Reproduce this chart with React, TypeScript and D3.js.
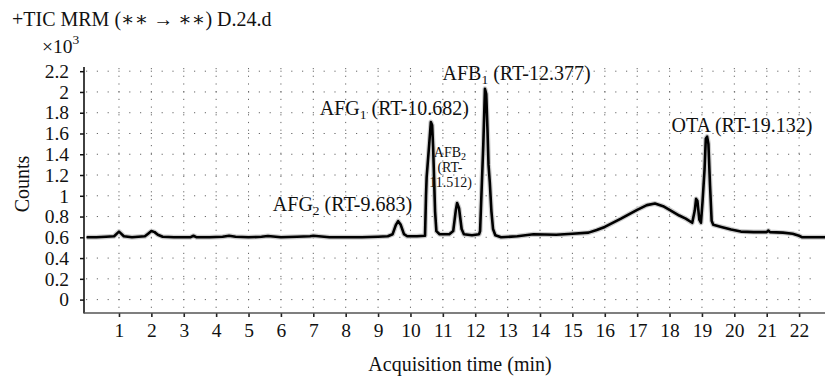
import React, { useEffect, useRef } from "react";
import * as d3 from "d3";

// retention time (min) and detector counts (x10^3)
const rtMinutes = [
  0, 0.3, 0.6, 0.85, 0.95, 1.0, 1.05, 1.15, 1.4, 1.8, 1.9, 2.0, 2.1, 2.2, 2.35, 2.7,
  3.2, 3.3, 3.4, 3.8, 4.2, 4.4, 4.6, 5.0, 5.4, 5.6, 6.0, 6.5, 6.9, 7.0, 7.5, 8.0,
  8.5, 9.0, 9.3, 9.45, 9.55, 9.62, 9.7, 9.8, 9.9, 10.2, 10.45, 10.48, 10.5, 10.58,
  10.63, 10.67, 10.7, 10.76, 10.8, 10.9, 11.2, 11.32, 11.4, 11.44, 11.5, 11.58,
  11.65, 11.9, 12.12, 12.15, 12.2, 12.25, 12.3, 12.34, 12.38, 12.41, 12.45, 12.5,
  12.55, 12.62, 12.8, 13.3, 13.8, 14.5, 15.0, 15.5, 15.75, 16.0, 16.5, 17.0, 17.3,
  17.55, 17.8, 18.0, 18.3, 18.5, 18.7, 18.78, 18.82, 18.86, 18.92, 18.97, 19.02,
  19.08, 19.12, 19.16, 19.2, 19.25, 19.3, 19.35, 19.6, 19.9, 20.2, 20.6, 21.0,
  21.05, 21.1, 21.5, 21.8, 22.0, 22.1, 22.5, 22.8,
];
const countsK = [
  0.6, 0.6, 0.605, 0.61, 0.64, 0.655, 0.64, 0.61, 0.6, 0.61, 0.635, 0.66, 0.65, 0.625, 0.605, 0.6,
  0.6, 0.615, 0.6, 0.6, 0.605, 0.615, 0.605, 0.6, 0.605, 0.612, 0.6, 0.605, 0.61, 0.615, 0.6, 0.6,
  0.6, 0.605, 0.61, 0.63, 0.72, 0.755, 0.72, 0.63, 0.61, 0.61, 0.615, 1.0, 1.18, 1.5,
  1.71, 1.68, 1.47, 0.85, 0.66, 0.63, 0.63, 0.66, 0.86, 0.93, 0.88, 0.68,
  0.63, 0.62, 0.63, 0.66, 1.08, 1.5, 2.03, 1.98, 1.62, 1.3, 1.13, 0.85,
  0.68, 0.62, 0.6, 0.61, 0.63, 0.625, 0.635, 0.645, 0.67, 0.7, 0.78, 0.865, 0.91,
  0.925, 0.9, 0.865, 0.81, 0.78, 0.74, 0.86, 0.97, 0.95, 0.77, 0.74, 0.95,
  1.25, 1.55, 1.57, 1.5, 1.1, 0.76, 0.72, 0.7, 0.675, 0.655, 0.65, 0.65,
  0.665, 0.65, 0.645, 0.635, 0.615, 0.6, 0.6, 0.6,
];

const yTicks = [0, 0.2, 0.4, 0.6, 0.8, 1, 1.2, 1.4, 1.6, 1.8, 2, 2.2];
const yTickLabels = ["0", "0.2", "0.4", "0.6", "0.8", "1", "1.2", "1.4", "1.6", "1.8", "2", "2.2"];
const xTicks = d3.range(1, 23);

// peak labels: name, subscript, rest of label, anchor time, anchor count
const peakNames = ["AFG", "AFG", "AFB", "OTA"];
const peakSubs = ["2", "1", "1", ""];
const peakRest = [" (RT-9.683)", " (RT-10.682)", " (RT-12.377)", " (RT-19.132)"];
const peakLabelT = [5.75, 7.2, 10.99, 18.06];
const peakLabelY = [0.85, 1.78, 2.115, 1.615];

const FONT = "'Liberation Serif', 'DejaVu Serif', serif";

export default function App() {
  const svgRef = useRef<SVGSVGElement>(null);

  useEffect(() => {
    const svg = d3.select(svgRef.current);
    svg.selectAll("*").remove();

    const x = d3.scaleLinear().domain([-0.08, 22.8]).range([84, 825]);
    const y = d3.scaleLinear().domain([0, 2.2]).range([299.6, 71.2]);

    const g = svg.append("g").style("font-family", FONT);

    // dotted grid
    g.selectAll(".hgrid")
      .data(yTicks)
      .enter()
      .append("line")
      .attr("x1", 86)
      .attr("x2", 820)
      .attr("y1", (d) => y(d))
      .attr("y2", (d) => y(d))
      .attr("stroke", "#666")
      .attr("stroke-width", 1)
      .attr("stroke-dasharray", "1.2,9.6");

    g.selectAll(".vgrid")
      .data(xTicks)
      .enter()
      .append("line")
      .attr("x1", (d) => x(d))
      .attr("x2", (d) => x(d))
      .attr("y1", 68)
      .attr("y2", 312)
      .attr("stroke", "#666")
      .attr("stroke-width", 1)
      .attr("stroke-dasharray", "1.2,6.5");

    // axes
    const yAxis = d3
      .axisLeft(y)
      .tickValues(yTicks)
      .tickFormat((_, i) => yTickLabels[i])
      .tickSize(4)
      .tickSizeOuter(0)
      .tickPadding(11);
    const ya = g.append("g").attr("transform", "translate(84,0)").call(yAxis);
    ya.select(".domain").remove();
    ya.selectAll("text").style("font-size", "19.5px").style("font-family", FONT).attr("fill", "#111");
    ya.selectAll("line").attr("stroke", "#111").attr("stroke-width", 1.5);

    const xAxis = d3
      .axisBottom(x)
      .tickValues(xTicks)
      .tickFormat(d3.format("d"))
      .tickSize(4)
      .tickSizeOuter(0)
      .tickPadding(6);
    const xa = g.append("g").attr("transform", "translate(0,313)").call(xAxis);
    xa.select(".domain").remove();
    xa.selectAll("text").style("font-size", "19.5px").style("font-family", FONT).attr("fill", "#111");
    xa.selectAll("line").attr("stroke", "#222").attr("stroke-width", 1.6);

    g.append("line").attr("x1", 84).attr("x2", 84).attr("y1", 67).attr("y2", 313.5)
      .attr("stroke", "#111").attr("stroke-width", 1.6);
    g.append("line").attr("x1", 84).attr("x2", 825).attr("y1", 313).attr("y2", 313)
      .attr("stroke", "#555").attr("stroke-width", 1.6);

    // trace
    const pts = rtMinutes.map((t, i) => [t, countsK[i]] as [number, number]);
    const line = d3.line<[number, number]>().x((d) => x(d[0])).y((d) => y(d[1]));
    g.append("path").attr("d", line(pts)).attr("fill", "none")
      .attr("stroke", "#ccc").attr("stroke-width", 5).attr("stroke-linejoin", "round");
    g.append("path").attr("d", line(pts)).attr("fill", "none")
      .attr("stroke", "#000").attr("stroke-width", 2.6).attr("stroke-linejoin", "round");

    // peak labels
    peakNames.forEach((name, i) => {
      const t = g.append("text")
        .attr("x", x(peakLabelT[i]))
        .attr("y", y(peakLabelY[i]))
        .style("font-size", "20px")
        .attr("fill", "#111")
        .text(name);
      if (peakSubs[i]) t.append("tspan").attr("dy", 4).style("font-size", "13.5px").text(peakSubs[i]);
      t.append("tspan").attr("dy", peakSubs[i] ? -4 : 0).text(peakRest[i]);
    });

    // the small AFB2 label stacked on three lines
    const afb2 = g.append("text").attr("text-anchor", "middle").style("font-size", "14px").attr("fill", "#111");
    afb2.append("tspan").attr("x", x(11.22)).attr("y", y(1.37)).text("AFB");
    afb2.append("tspan").attr("dy", 3).style("font-size", "10px").text("2");
    afb2.append("tspan").attr("x", x(11.22)).attr("y", y(1.225)).text("(RT-");
    afb2.append("tspan").attr("x", x(11.24)).attr("y", y(1.085)).text("11.512)");

    // titles
    g.append("text").attr("x", 12).attr("y", 26).style("font-size", "20px").attr("fill", "#111")
      .text("+TIC MRM (∗∗ → ∗∗) D.24.d");
    const mult = g.append("text").attr("x", 42).attr("y", 53).style("font-size", "19.5px").attr("fill", "#111");
    mult.append("tspan").text("×10");
    mult.append("tspan").attr("dy", -9).style("font-size", "13.5px").text("3");

    g.append("text")
      .attr("transform", "translate(29,184) rotate(-90)")
      .attr("text-anchor", "middle")
      .style("font-size", "20px")
      .attr("fill", "#111")
      .text("Counts");

    g.append("text")
      .attr("x", 460)
      .attr("y", 371)
      .attr("text-anchor", "middle")
      .style("font-size", "20px")
      .attr("fill", "#111")
      .text("Acquisition time (min)");
  }, []);

  return (
    <svg
      ref={svgRef}
      width={825}
      height={377}
      style={{ position: "absolute", left: 0, top: 0, display: "block", background: "#fff" }}
    />
  );
}
